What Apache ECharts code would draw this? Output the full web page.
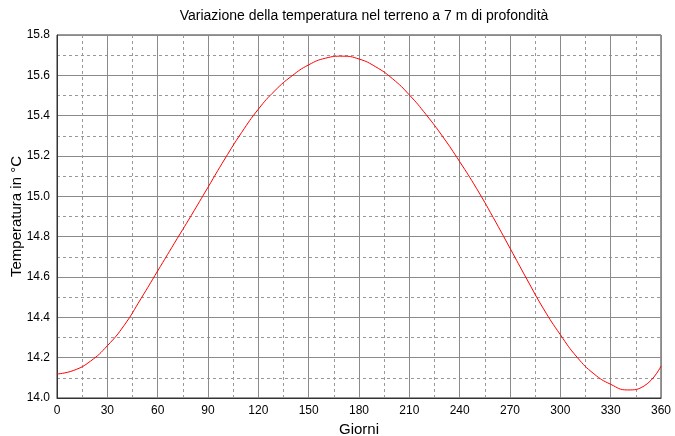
<!DOCTYPE html>
<html>
<head>
<meta charset="utf-8">
<script src="https://cdn.jsdelivr.net/npm/echarts@6/dist/echarts.min.js"></script>
<style>
html,body{margin:0;padding:0;background:#fff;}
#c{width:675px;height:436px;}
</style>
</head>
<body>
<div id="c"></div>
<script>
const days = [0, 10, 20, 30, 40, 50, 60, 70, 80, 90, 100, 110, 120, 130, 140, 150, 160, 170, 180, 190, 200, 210, 220, 230, 240, 250, 260, 270, 280, 290, 300, 310, 320, 330, 340, 350, 360];
const temps = [14.119, 14.137, 14.183, 14.259, 14.360, 14.492, 14.630, 14.768, 14.905, 15.045, 15.185, 15.316, 15.432, 15.525, 15.597, 15.652, 15.685, 15.695, 15.681, 15.642, 15.583, 15.503, 15.405, 15.295, 15.172, 15.040, 14.895, 14.743, 14.590, 14.442, 14.314, 14.202, 14.120, 14.068, 14.040, 14.060, 14.158];
const titleText = 'Variazione della temperatura nel terreno a 7 m di profondità';
const xName = 'Giorni';
const yName = 'Temperatura in °C';

const chart = echarts.init(document.getElementById('c'), null, {renderer: 'canvas'});
const font = 'Liberation Sans, Arial, sans-serif';
chart.setOption({
  animation: false,
  backgroundColor: '#fff',
  title: {
    text: titleText,
    left: 359, top: 4, textAlign: 'center',
    textStyle: {fontFamily: font, fontSize: 14, fontWeight: 'normal', color: '#000'}
  },
  grid: {left: 57, right: 14, top: 35, bottom: 38, containLabel: false, outerBoundsMode: 'none',
         show: true, borderColor: '#333', borderWidth: 1, backgroundColor: 'transparent'},
  xAxis: {
    type: 'value', min: 0, max: 360, interval: 30,
    name: xName, nameLocation: 'middle', nameGap: 21,
    nameTextStyle: {fontFamily: font, fontSize: 15, color: '#000'},
    axisLine: {show: true, lineStyle: {color: '#333', width: 1}},
    axisTick: {show: false},
    axisLabel: {fontFamily: font, fontSize: 12, color: '#000', margin: 7},
    splitLine: {show: true, lineStyle: {color: '#8a8a8a', width: 1}},
    minorTick: {show: false, splitNumber: 2},
    minorSplitLine: {show: true, lineStyle: {color: '#999', width: 1, type: [3, 3]}}
  },
  yAxis: {
    type: 'value', min: 14.0, max: 15.8, interval: 0.2,
    name: yName, nameLocation: 'middle', nameGap: 33, nameRotate: 90, nameMoveOverlap: false,
    nameTextStyle: {fontFamily: font, fontSize: 15, color: '#000'},
    axisLine: {show: true, lineStyle: {color: '#333', width: 1}},
    axisTick: {show: false},
    axisLabel: {fontFamily: font, fontSize: 12, color: '#000', margin: 7, formatter: v => v.toFixed(1)},
    splitLine: {show: true, lineStyle: {color: '#8a8a8a', width: 1}},
    minorTick: {show: false, splitNumber: 2},
    minorSplitLine: {show: true, lineStyle: {color: '#999', width: 1, type: [3, 3]}}
  },
  series: [{
    type: 'line',
    data: days.map((d, i) => [d, temps[i]]),
    smooth: 0.5,
    showSymbol: false,
    lineStyle: {color: '#ff0000', width: 1},
    itemStyle: {color: '#ff0000'}
  }]
});
</script>
</body>
</html>
